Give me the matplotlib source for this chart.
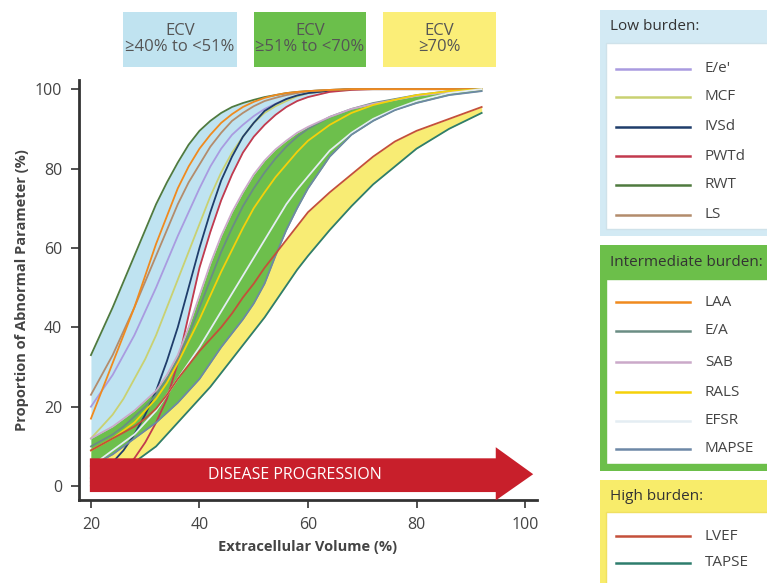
import matplotlib.pyplot as plt
from matplotlib.patches import Rectangle, Polygon

ecv = [20, 22, 24, 26, 28, 30, 32, 34, 36, 38, 40, 42, 44, 46, 48, 50, 52, 54, 56, 58, 60,
       64, 68, 72, 76, 80, 86, 92]

# low burden
e_e = [20, 24, 28, 33, 38, 44, 50, 56.5, 63, 69, 75, 80.5, 85, 88.5, 91, 93.2, 95, 96.3, 97.5,
       98.3, 99, 99.6, 100, 100, 100, 100, 100, 100]
mcf = [12, 15, 18, 22, 27, 32, 38, 45, 52, 59, 66, 73, 79, 84, 88, 91.5, 94, 95.7, 97, 98.2,
       99, 99.6, 100, 100, 100, 100, 100, 100]
ivsd = [2, 4, 6, 9, 13, 18, 24, 31.5, 40, 50, 60, 69, 77, 83, 88, 91.5, 94.5, 96.2, 97.5, 98.4,
        99, 99.6, 100, 100, 100, 100, 100, 100]
pwtd = [0, 1, 2, 4, 7, 11, 16, 22, 31, 43, 55, 64, 72, 78.5, 84, 88, 91, 93.5, 95.5, 97, 98,
        99.3, 99.8, 100, 100, 100, 100, 100]
rwt = [33, 39, 45, 51.5, 58, 64.5, 71, 76.5, 81.5, 86, 89.5, 92, 94, 95.5, 96.5, 97.3, 98, 98.5,
       99, 99.3, 99.5, 99.8, 100, 100, 100, 100, 100, 100]
ls = [23, 28, 33, 39, 45, 51.5, 58, 64.5, 71, 76.5, 81, 85.5, 89, 92, 94, 95.7, 97, 97.8, 98.5,
      99, 99.5, 99.8, 100, 100, 100, 100, 100, 100]
# intermediate burden
laa = [17, 24, 31, 38, 45, 53, 61, 68, 75, 80.5, 85, 88.5, 91.5, 93.7, 95.5, 96.8, 97.8, 98.5,
       99, 99.3, 99.5, 99.8, 100, 100, 100, 100, 100, 100]
e_a = [10, 11.5, 13, 15, 17.5, 20, 23, 27, 32, 38, 45, 52, 59, 65, 70.5, 75, 79, 82.5, 85.5, 88,
       90, 93, 95, 96.5, 97.5, 98.5, 99.5, 100]
sab = [12, 13.5, 15, 17, 19, 21.5, 24, 28, 33, 40, 48, 56, 63, 69, 74, 78.5, 82, 84.8, 87, 89,
       90.5, 93, 95, 96.3, 97.3, 98.3, 99.3, 100]
rals = [9, 10.5, 12, 14, 16, 19, 22, 26, 31, 36.5, 42, 48, 54, 59.5, 65, 70, 74, 77.8, 81, 84.2,
        87, 91, 94, 96, 97.3, 98.5, 99.5, 100]
efsr = [5, 7, 9, 11, 13, 16, 19, 23, 27, 31, 35, 39.5, 44, 48.5, 53, 57.5, 62, 66.5, 71, 74.7,
        78, 84.5, 89, 92.5, 95, 97, 99, 100]
mapse = [5, 6.5, 8, 10, 12, 14, 16, 18.5, 21, 24, 27, 31, 35, 38.5, 42, 46, 51, 58, 64.5, 70,
         75, 83, 88.5, 92, 94.7, 96.5, 98.5, 99.5]
# high burden
lvef = [9, 10.5, 12, 13.5, 15, 17, 19.5, 23, 27, 30.5, 34, 37, 40, 43.5, 47.5, 51, 55, 58.5, 62,
        65.5, 69, 74, 78.5, 83, 86.8, 89.5, 92.5, 95.5]
tapse = [1, 2, 3, 4.5, 6, 8, 10, 13, 16, 19, 22, 25, 28.5, 32, 35.5, 39, 42.5, 46.5, 50.5, 54.5,
         58, 64.5, 70.5, 76, 80.5, 85, 90, 94]

groups = [
    ("Low burden:", [("E/e'", e_e, "#a99be0"), ("MCF", mcf, "#c9d171"),
                     ("IVSd", ivsd, "#1f3d6b"), ("PWTd", pwtd, "#c23a4e"),
                     ("RWT", rwt, "#4f7a3f"), ("LS", ls, "#b38c6c")]),
    ("Intermediate burden:", [("LAA", laa, "#f08a1e"), ("E/A", e_a, "#6b8d84"),
                              ("SAB", sab, "#cba9c9"), ("RALS", rals, "#f5d10a"),
                              ("EFSR", efsr, "#e4edf3"), ("MAPSE", mapse, "#6d88a6")]),
    ("High burden:", [("LVEF", lvef, "#c4503a"), ("TAPSE", tapse, "#2e7d6d")]),
]

W, H = 767, 583
fig = plt.figure(figsize=(W / 100, H / 100), dpi=100)

def fx(px):
    return px / W

def fy(py):
    return 1 - py / H

def frect(x0, y0, x1, y1, **kw):
    fig.patches.append(Rectangle((fx(x0), fy(y1)), fx(x1) - fx(x0), fy(y0) - fy(y1),
                                 transform=fig.transFigure, **kw))

ax = fig.add_axes([fx(79), fy(500), fx(537) - fx(79), fy(80) - fy(500)])
ax.set_xlim(17.8, 102.2)
ax.set_ylim(-3.5, 102.3)

# bands (blue, then yellow, then green on top)
ax.fill_between(ecv, pwtd, rwt, color="#bfe3f1", lw=0, zorder=1)
ax.fill_between(ecv, tapse, lvef, color="#f8ec74", lw=0, zorder=2)
ax.fill_between(ecv, mapse, sab, color="#6dbf4c", lw=0, zorder=3)

for title, items in groups:
    for name, vals, col in items:
        ax.plot(ecv, vals, color=col, lw=1.3, zorder=4, solid_joinstyle="round")

# disease progression arrow
arr_x0, arr_x1, head_x = 19.8, 101.5, 94.6
arr_lo, arr_hi, head_lo, head_hi = -1.5, 7.0, -3.6, 9.8
ax.add_patch(Polygon([(arr_x0, arr_lo), (head_x, arr_lo), (head_x, head_lo), (arr_x1, 3.0),
                      (head_x, head_hi), (head_x, arr_hi), (arr_x0, arr_hi)],
                     closed=True, color="#c81f2b", lw=0, zorder=5, clip_on=False))
ax.text(57.5, 2.8, "DISEASE PROGRESSION", color="white", ha="center", va="center",
        fontsize=11.5, family="Open Sans", zorder=6)

for s in ["top", "right"]:
    ax.spines[s].set_visible(False)
for s in ["left", "bottom"]:
    ax.spines[s].set_color("#333333")
    ax.spines[s].set_linewidth(2)
ax.set_xticks([20, 40, 60, 80, 100])
ax.set_yticks([0, 20, 40, 60, 80, 100])
ax.tick_params(direction="out", length=6, width=1.2, color="#333333",
               labelcolor="#444444", labelsize=11.5, pad=6)
for lab in ax.get_xticklabels() + ax.get_yticklabels():
    lab.set_family("Open Sans")
ax.set_xlabel("Extracellular Volume (%)", fontsize=10.5, fontweight="bold",
              color="#444444", family="Open Sans", labelpad=5)
ax.set_ylabel("Proportion of Abnormal Parameter (%)", fontsize=10.5, fontweight="bold",
              color="#444444", family="Open Sans", labelpad=4)

# ECV boxes on top
for x0, x1, col, txt in [(123, 237, "#c0e3f0", "ECV\n\u226540% to <51%"),
                         (254, 366, "#6bbf4b", "ECV\n\u226551% to <70%"),
                         (383, 496, "#fbee78", "ECV\n\u226570%")]:
    frect(x0, 12, x1, 67, facecolor=col, edgecolor="none")
    fig.text(fx((x0 + x1) / 2), fy(39), txt, ha="center", va="center", fontsize=12,
             color="#555555", family="Open Sans", linespacing=1.05)

# legend panels
panels = [(10, 236, 43, 229, "#d3eaf4", "#cfe2ea"),
          (245, 471, 279, 464, "#6cbf4a", "#6cbf4a"),
          (480, 590, 512, 590, "#f8ec6a", "#f0e060")]
item_rows = [[69, 97, 127, 156, 185, 215], [302, 331, 362, 392, 421, 449], [536, 563]]
for (title, items), (y0, y1, iy0, iy1, col, bcol), rows in zip(groups, panels, item_rows):
    frect(600, y0, 775, y1, facecolor=col, edgecolor="none")
    frect(606, iy0, 775, iy1, facecolor="white", edgecolor=bcol, lw=1)
    fig.text(fx(610), fy((y0 + iy0) / 2), title, ha="left", va="center", fontsize=11,
             color="#333333", family="Open Sans")
    for (name, vals, c), ry in zip(items, rows):
        fig.add_artist(plt.Line2D([fx(616), fx(690)], [fy(ry), fy(ry)], color=c, lw=1.8,
                                  transform=fig.transFigure))
        fig.text(fx(705), fy(ry), name, ha="left", va="center", fontsize=11,
                 color="#444444", family="Open Sans")

fig.savefig("out.png", dpi=100)
